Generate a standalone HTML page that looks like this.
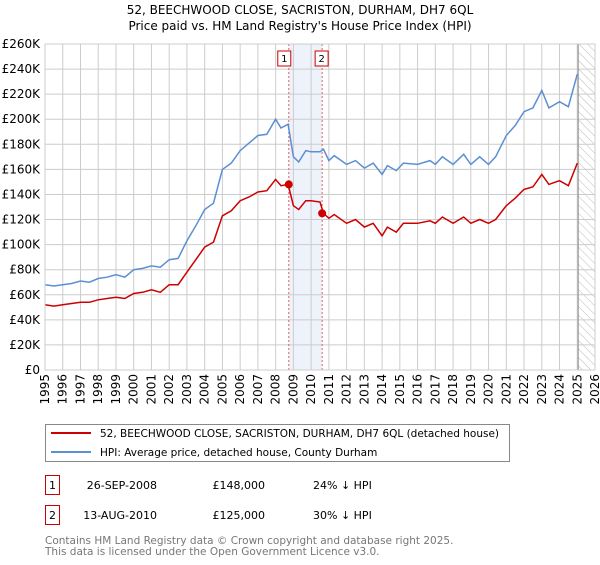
<!DOCTYPE html>
<html><head><meta charset="utf-8"><style>
body{margin:0;background:#fff;font-family:"Liberation Sans","DejaVu Sans",sans-serif;}
svg text{font-family:"DejaVu Sans","Liberation Sans",sans-serif;}
</style></head><body>
<svg id="c" width="600" height="560">
<text x="300" y="14" text-anchor="middle" font-size="12">52, BEECHWOOD CLOSE, SACRISTON, DURHAM, DH7 6QL</text>
<text x="300" y="30" text-anchor="middle" font-size="12">Price paid vs. HM Land Registry's House Price Index (HPI)</text>
<defs><pattern id="hatch" width="6" height="6" patternUnits="userSpaceOnUse" patternTransform="rotate(-45)"><line x1="0" y1="0" x2="0" y2="6" stroke="#bbb" stroke-width="1"/></pattern></defs>
<g id="plot"></g>
<rect x="45.5" y="424.5" width="464" height="37" fill="#fff" stroke="#888"/>
<line x1="51" y1="433" x2="91" y2="433" stroke="#cc0000" stroke-width="2"/>
<text x="100" y="437" font-size="10.5">52, BEECHWOOD CLOSE, SACRISTON, DURHAM, DH7 6QL (detached house)</text>
<line x1="51" y1="452" x2="91" y2="452" stroke="#5b8fd4" stroke-width="2"/>
<text x="100" y="456" font-size="10.5">HPI: Average price, detached house, County Durham</text>
<rect x="45.5" y="475.5" width="14" height="19" fill="#fff" stroke="#cc0000"/>
<text x="52.5" y="489" font-size="11" text-anchor="middle">1</text>
<text x="157" y="489" font-size="11" text-anchor="end">26-SEP-2008</text>
<text x="265" y="489" font-size="11" text-anchor="end">£148,000</text>
<text x="313" y="489" font-size="11">24% ↓ HPI</text>
<rect x="45.5" y="505.5" width="14" height="19" fill="#fff" stroke="#cc0000"/>
<text x="52.5" y="519" font-size="11" text-anchor="middle">2</text>
<text x="157" y="519" font-size="11" text-anchor="end">13-AUG-2010</text>
<text x="265" y="519" font-size="11" text-anchor="end">£125,000</text>
<text x="313" y="519" font-size="11">30% ↓ HPI</text>
<text x="45" y="544" font-size="10.5" fill="#777">Contains HM Land Registry data © Crown copyright and database right 2025.</text>
<text x="45" y="555" font-size="10.5" fill="#777">This data is licensed under the Open Government Licence v3.0.</text>
</svg>
<script>
const yTicks=[0,20,40,60,80,100,120,140,160,180,200,220,240,260];
const years=[1995,1996,1997,1998,1999,2000,2001,2002,2003,2004,2005,2006,2007,2008,2009,2010,2011,2012,2013,2014,2015,2016,2017,2018,2019,2020,2021,2022,2023,2024,2025,2026];
const hpiT=[1995,1995.5,1996,1996.5,1997,1997.5,1998,1998.5,1999,1999.5,2000,2000.5,2001,2001.5,2002,2002.5,2003,2003.5,2004,2004.5,2005,2005.5,2006,2006.5,2007,2007.5,2008,2008.3,2008.7,2009,2009.3,2009.7,2010,2010.5,2010.7,2011,2011.3,2012,2012.5,2013,2013.5,2014,2014.3,2014.8,2015.2,2016,2016.7,2017,2017.4,2018,2018.6,2019,2019.5,2020,2020.4,2021,2021.5,2022,2022.5,2023,2023.4,2024,2024.5,2025];
const hpiV=[68,67,68,69,71,70,73,74,76,74,80,81,83,82,88,89,103,115,128,133,160,165,175,181,187,188,200,193,196,170,166,175,174,174,176,167,171,164,167,161,165,156,163,159,165,164,167,164,170,164,172,164,170,164,170,187,195,206,209,223,209,214,210,236];
const ppV=[52,51,52,53,54,54,56,57,58,57,61,62,64,62,68,68,78,88,98,102,123,127,135,138,142,143,152,147,148,131,128,135,135,134,125,121,124,117,120,114,117,107,114,110,117,117,119,117,122,117,122,117,120,117,120,131,137,144,146,156,148,151,147,165];
const saleT=[2008.74,2010.62];
const saleV=[148,125];
const X=t=>45+(t-1995)*(550/31), Y=v=>370-v*(326/260);
const g=document.getElementById('plot'),NS='http://www.w3.org/2000/svg';
function mk(tag,a,p){const e=document.createElementNS(NS,tag);for(const k in a)e.setAttribute(k,a[k]);(p||g).appendChild(e);return e;}
const band=mk('rect',{x:X(saleT[0]),y:44,width:X(saleT[1])-X(saleT[0]),height:326,fill:'#eef2fb'});


const hat=mk('rect',{x:X(2025.05),y:44,width:595-X(2025.05),height:326,fill:'url(#hatch)'});


yTicks.forEach(v=>{mk('line',{x1:45,x2:595,y1:Y(v),y2:Y(v),stroke:'#ccc'});
const t=mk('text',{x:40,y:Y(v)+4,'text-anchor':'end','font-size':12});t.textContent='£'+(v?v+'K':'0');

});
years.forEach(y=>{mk('line',{x1:X(y),x2:X(y),y1:44,y2:370,stroke:'#ccc'});
const t=mk('text',{x:0,y:0,'text-anchor':'end','font-size':12,transform:`translate(${X(y)+4},374) rotate(-90)`});t.textContent=y;

});
mk('line',{x1:X(2025.05),x2:X(2025.05),y1:44,y2:370,stroke:'#888'});
saleT.forEach((t,i)=>{mk('line',{x1:X(t),x2:X(t),y1:44,y2:370,stroke:'#e06060','stroke-dasharray':'2,2'});
const b=mk('rect',{x:X(t)-7-(i?0:4),y:51,width:13,height:15,fill:'#fff',stroke:'#cc0000'});


const tx=mk('text',{x:X(t)-0.5-(i?0:4),y:62,'text-anchor':'middle','font-size':10});tx.textContent=i+1;});
const path=(v)=>v.map((d,i)=>(i?'L':'M')+X(hpiT[i]).toFixed(1)+','+Y(d).toFixed(1)).join('');
const h=mk('path',{d:path(hpiV),fill:'none',stroke:'#5b8fd4','stroke-width':1.5});


const p=mk('path',{d:path(ppV),fill:'none',stroke:'#cc0000','stroke-width':1.5});


saleT.forEach((t,i)=>{const c=mk('circle',{cx:X(t),cy:Y(saleV[i]),r:4,fill:'#cc0000'});

});
mk('rect',{x:45,y:44,width:550,height:326,fill:'none',stroke:'#ccc'});
</script>
</body></html>
